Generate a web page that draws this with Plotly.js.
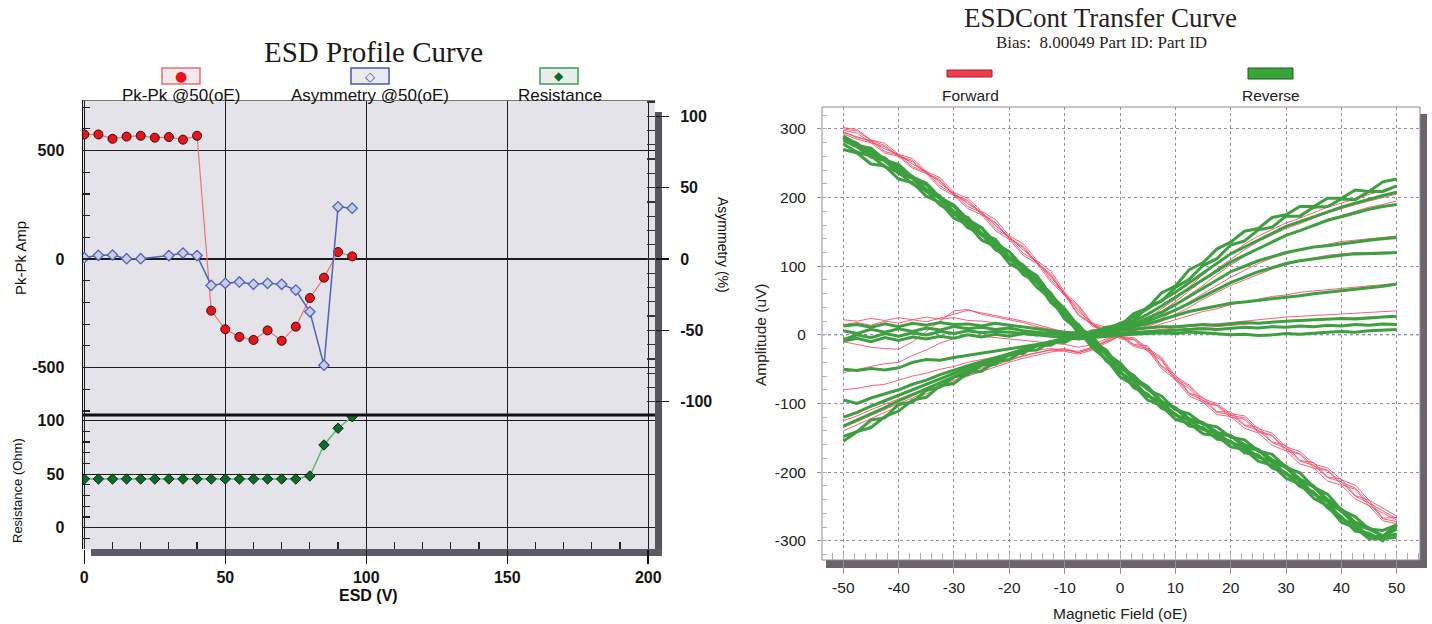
<!DOCTYPE html>
<html>
<head>
<meta charset="utf-8">
<script src="https://cdn.plot.ly/plotly-3.0.1.min.js"></script>
<style>html,body{margin:0;padding:0;background:#fff;}#chart{width:1432px;height:624px;}</style>
</head>
<body>
<div id="chart"></div>
<script>
// ---------- Left chart: ESD Profile Curve ----------
const esdV = [0,5,10,15,20,25,30,35,40,45,50,55,60,65,70,75,80,85,90,95];
const pkpkAmp = [574,574,554,564,568,559,562,550,568,-238,-324,-359,-373,-329,-377,-312,-180,-86,32,12];
const asymV = [0,5,10,15,20,30,35,40,45,50,55,60,65,70,75,80,85,90,95];
const asymmetry = [0.9,2.6,2.8,0.2,0.2,2.4,4.2,2.4,-18.5,-17,-16.1,-17.7,-17,-17.7,-21.8,-37,-74.4,36.6,35.6];
const resistance = [45.5,45.5,45.5,45.5,45.5,45.5,45.5,45.5,45.5,45.5,45.5,45.5,45.5,45.5,45.5,45.5,48.3,77.3,92.9,103.7];
const esdTicks = [0,50,100,150,200];
const esdTickText = ['0','50','100','150','200'];
const pkpkTicks = [-500,0,500];
const pkpkTickText = ['-500','0','500'];
const asymTicks = [-100,-50,0,50,100];
const asymTickText = ['-100','-50','0','50','100'];
const resTicks = [0,50,100];
const resTickText = ['0','50','100'];

// ---------- Right chart: ESDCont Transfer Curve ----------
const fieldX = [-50,-47.5,-45,-42.5,-40,-37.5,-35,-32.5,-30,-27.5,-25,-22.5,-20,-17.5,-15,-12.5,-10,-7.5,-5,-2.5,0,2.5,5,7.5,10,12.5,15,17.5,20,22.5,25,27.5,30,32.5,35,37.5,40,42.5,45,47.5,50];
// Forward (red) sweeps
const fwd1 = [300,297,283,276,261,254,236,226,204,196,177,164,141,129,105,89,59,41,15,9,-4,-6,-21,-35,-63,-75,-96,-102,-117,-121,-140,-146,-166,-173,-191,-197,-215,-223,-245,-256,-268];
const fwd2 = [296,287,283,267,262,245,237,217,205,187,178,155,142,119,107,80,60,30,16,0,-1,-15,-20,-46,-62,-86,-95,-113,-116,-132,-139,-157,-165,-184,-190,-208,-214,-235,-245,-268,-272];
const fwd3 = [302,299,284,279,263,257,238,229,207,199,180,168,144,133,108,93,62,43,17,11,-3,-4,-19,-33,-60,-73,-93,-100,-115,-118,-137,-143,-163,-170,-188,-194,-211,-219,-241,-252,-264];
const fwd4 = [293,285,280,265,260,243,235,214,203,184,175,152,139,116,104,77,58,28,15,-1,-2,-17,-22,-49,-65,-89,-98,-116,-119,-136,-143,-161,-169,-188,-194,-213,-219,-239,-249,-271,-275];
const fwd5 = [298,294,280,274,260,252,235,224,203,194,176,162,140,127,104,87,57,38,12,8,-6,-7,-24,-37,-66,-78,-99,-103,-120,-123,-142,-147,-169,-174,-194,-198,-218,-225,-249,-259,-270];
const fwd6 = [295,289,282,271,263,249,238,221,206,191,179,159,143,124,107,84,61,34,17,3,1,-14,-16,-45,-58,-85,-91,-112,-112,-131,-135,-156,-161,-183,-186,-207,-210,-234,-241,-267,-266];
const fwd7 = [-140,-131,-121,-112,-103,-94,-85,-77,-68,-60,-53,-46,-40,-34,-29,-25,-22,-24,-18,-8,2,12,24,38,52,70,88,104,118,132,144,154,163,170,178,186,192,198,204,211,217];
const fwd8 = [-135,-126,-118,-108,-100,-92,-82,-74,-66,-58,-50,-44,-37,-31,-26,-22,-20,-26,-20,-10,0,10,22,34,48,64,80,96,110,124,136,146,155,162,170,178,184,190,195,200,205];
const fwd9 = [-125,-118,-109,-101,-94,-86,-78,-70,-63,-55,-48,-42,-36,-30,-26,-22,-24,-28,-22,-12,-2,8,18,30,44,58,72,88,102,114,126,136,145,152,160,168,174,180,186,190,195];
const fwd10 = [-80,-78,-74,-72,-66,-60,-56,-50,-46,-40,-36,-32,-28,-24,-22,-20,-22,-26,-18,-10,-2,6,14,24,36,48,60,72,84,94,104,112,118,124,128,132,136,138,140,142,144];
const fwd11 = [-55,-50,-46,-42,-40,-30,-22,-12,-5,0,-2,-4,-6,-8,-10,-12,-14,-18,-14,-6,0,6,12,20,30,40,52,62,72,80,88,96,102,108,112,116,118,120,120,121,120];
const fwd12 = [15,18,14,20,17,22,19,24,30,36,32,28,25,20,15,10,4,-2,-4,-2,2,6,10,16,22,28,34,38,44,48,52,56,58,62,64,66,68,70,71,73,75];
const fwd13 = [22,20,24,21,25,22,26,23,25,21,20,18,15,12,8,4,0,-4,-2,0,2,4,6,8,10,12,14,16,18,20,22,24,26,27,28,30,31,32,33,34,35];
const fwd14 = [-10,-14,-18,-20,-21,-10,5,20,35,37,30,26,22,18,12,8,4,0,-2,0,2,3,5,6,8,10,11,12,14,16,17,18,20,21,22,23,24,25,26,27,28];
// Reverse (green) sweeps
const rev1 = [290,276,272,255,248,230,221,200,189,168,156,134,121,99,86,58,38,12,-4,-29,-45,-66,-78,-98,-106,-122,-128,-142,-147,-160,-167,-182,-191,-210,-220,-240,-254,-273,-281,-293,-283];
const rev2 = [283,274,259,254,235,228,209,199,176,165,145,133,110,98,76,57,28,12,-13,-28,-55,-68,-89,-98,-117,-124,-138,-143,-157,-163,-178,-185,-203,-212,-232,-243,-268,-277,-293,-294,-290];
const rev3 = [278,266,261,245,237,220,210,189,178,156,147,124,113,88,77,47,30,2,-11,-38,-52,-77,-86,-107,-115,-133,-135,-152,-155,-172,-175,-194,-201,-221,-229,-252,-265,-286,-289,-300,-276];
const rev4 = [288,279,263,258,239,231,212,202,179,171,148,139,113,102,78,61,30,15,-10,-22,-48,-59,-80,-89,-109,-115,-130,-134,-149,-153,-169,-174,-193,-201,-222,-232,-255,-265,-283,-285,-277];
const rev5 = [270,265,249,246,227,222,202,193,170,161,138,129,104,93,69,53,23,7,-19,-35,-61,-73,-95,-103,-123,-129,-144,-147,-163,-167,-184,-190,-209,-217,-238,-249,-273,-281,-297,-297,-295];
const rev6 = [286,274,268,254,244,228,219,198,187,164,156,132,121,97,83,54,37,10,-2,-27,-41,-63,-75,-97,-107,-125,-129,-144,-147,-163,-168,-186,-193,-213,-221,-243,-257,-277,-283,-293,-277];
const rev7 = [-155,-141,-135,-119,-111,-95,-91,-74,-71,-55,-53,-39,-36,-23,-22,-10,-11,0,-1,11,13,31,39,61,71,95,105,125,135,151,155,171,175,187,187,199,199,211,209,223,227];
const rev8 = [-148,-141,-124,-121,-101,-98,-81,-76,-61,-58,-44,-43,-28,-27,-15,-15,-4,-5,6,6,17,21,41,49,69,81,101,111,131,137,153,157,173,173,186,187,198,197,209,209,217];
const rev9 = [-133,-124,-116,-106,-96,-87,-78,-70,-60,-52,-44,-37,-29,-22,-16,-10,-5,0,4,10,16,26,38,50,62,76,90,104,118,128,138,148,158,165,172,180,186,192,198,203,208];
const rev10 = [-120,-113,-104,-96,-88,-79,-71,-63,-55,-48,-41,-34,-27,-21,-15,-10,-6,-1,3,8,12,20,30,42,55,68,80,93,106,116,126,136,145,152,160,167,172,178,183,187,190];
const rev11 = [-95,-100,-92,-86,-80,-72,-66,-58,-51,-45,-39,-33,-27,-21,-16,-11,-6,-2,2,6,10,16,24,33,44,56,68,80,92,100,108,114,120,124,128,130,133,136,138,140,142];
const rev12 = [-50,-52,-49,-51,-48,-40,-36,-37,-33,-30,-26,-24,-20,-17,-14,-10,-7,-3,0,4,8,13,20,28,36,46,56,66,76,84,92,98,104,108,111,114,116,118,118,119,120];
const rev13 = [-9,-5,-10,-4,-8,-3,-6,-2,-5,0,-3,1,-2,2,0,3,1,4,3,5,8,12,16,22,28,34,38,42,46,48,50,52,54,57,60,62,64,66,68,71,74];
const rev14 = [13,15,11,16,12,17,14,18,15,16,13,17,14,12,9,6,4,2,3,5,6,8,10,12,12,14,15,14,16,18,17,19,20,21,22,22,24,23,25,26,27];
const rev15 = [6,2,8,4,9,5,10,7,12,9,11,8,10,6,4,2,0,-2,0,1,2,4,5,6,7,8,9,8,10,11,10,12,11,13,12,14,13,15,14,16,15];
const rev16 = [-7,0,-4,2,-2,3,0,5,2,6,3,5,4,2,0,-3,-5,-6,-4,-2,0,1,2,3,2,4,3,2,0,1,-1,0,2,1,3,4,5,4,6,7,8];
const fieldTicks = [-50,-40,-30,-20,-10,0,10,20,30,40,50];
const fieldTickText = ['-50','-40','-30','-20','-10','0','10','20','30','40','50'];
const ampTicks = [-300,-200,-100,0,100,200,300];
const ampTickText = ['-300','-200','-100','0','100','200','300'];

const forwardSet = [fwd1,fwd2,fwd3,fwd4,fwd5,fwd6,fwd7,fwd8,fwd9,fwd10,fwd11,fwd12,fwd13,fwd14];
const reverseSet = [rev1,rev2,rev3,rev4,rev5,rev6,rev7,rev8,rev9,rev10,rev11,rev12,rev13,rev14,rev15,rev16];

// ---------- layout helpers ----------
const W = 1432, H = 624;
const px = v => v / W;
const py = v => 1 - v / H;
const SANS = 'Liberation Sans, Arial, sans-serif';
const SERIF = 'Liberation Serif, Times New Roman, serif';

const traces = [];
traces.push({x: esdV, y: pkpkAmp, xaxis: 'x', yaxis: 'y', type: 'scatter', mode: 'lines+markers',
  line: {color: '#f07474', width: 1.2},
  marker: {symbol: 'circle', size: 9, color: '#e8141c', line: {color: '#3a0808', width: 1}}});
traces.push({x: asymV, y: asymmetry, xaxis: 'x', yaxis: 'y2', type: 'scatter', mode: 'lines+markers',
  line: {color: '#5064b8', width: 1.5},
  marker: {symbol: 'diamond', size: 8, color: '#c9cee6', line: {color: '#5064b8', width: 1.3}}});
traces.push({x: esdV, y: resistance, xaxis: 'x', yaxis: 'y3', type: 'scatter', mode: 'lines+markers',
  line: {color: '#5cba6c', width: 1.5},
  marker: {symbol: 'diamond', size: 8, color: '#0e6a2c', line: {color: '#062a10', width: 1}}});
forwardSet.forEach(arr => traces.push({x: fieldX, y: arr, xaxis: 'x2', yaxis: 'y4', type: 'scatter', mode: 'lines',
  line: {color: 'rgba(242,70,100,0.85)', width: 1}}));
reverseSet.forEach(arr => traces.push({x: fieldX, y: arr, xaxis: 'x2', yaxis: 'y4', type: 'scatter', mode: 'lines',
  line: {color: '#3d9f3f', width: 3}}));

const tickFontL = {family: SANS, size: 16, color: '#151515', weight: 'bold'};
const gridL = '#1c1c1c';
const gridR = '#9c8a9a';

const layout = {
  width: W, height: H, margin: {l: 0, r: 0, t: 0, b: 0},
  paper_bgcolor: '#ffffff', plot_bgcolor: 'rgba(0,0,0,0)', showlegend: false,
  xaxis: {domain: [px(83), px(655)], range: [-0.46, 202.4], anchor: 'y3', tickvals: esdTicks, ticktext: esdTickText,
    ticks: 'outside', ticklen: 14, tickwidth: 1.5, tickcolor: '#111', showgrid: true, gridcolor: gridL, gridwidth: 1.3,
    zeroline: false, showline: false, tickfont: tickFontL,
    minor: {dtick: 10, ticks: 'inside', ticklen: 7, tickcolor: '#222', tickwidth: 1.2, showgrid: false}},
  yaxis: {domain: [py(415), py(100)], range: [-718.9, 732.7], anchor: 'x', tickvals: pkpkTicks, ticktext: pkpkTickText,
    ticks: '', ticklabelstandoff: 14, showgrid: true, gridcolor: gridL, gridwidth: 1.2, zeroline: false,
    showline: true, linecolor: '#111', linewidth: 1.5, tickfont: tickFontL,
    minor: {dtick: 100, ticks: 'inside', ticklen: 7, tickcolor: '#222', tickwidth: 1.2, showgrid: false}},
  yaxis2: {overlaying: 'y', side: 'right', anchor: 'x', range: [-109.3, 111.4], tickvals: asymTicks, ticktext: asymTickText,
    ticks: 'outside', ticklen: 13, tickwidth: 1.5, tickcolor: '#111', ticklabelstandoff: 8, showgrid: false, zeroline: false,
    showline: false, tickfont: tickFontL,
    minor: {dtick: 10, ticks: 'inside', ticklen: 8, tickcolor: '#333', tickwidth: 1.2}},
  yaxis3: {domain: [py(549), py(415)], range: [-19.9, 105.3], anchor: 'x', tickvals: resTicks, ticktext: resTickText,
    ticks: '', ticklabelstandoff: 14, showgrid: true, gridcolor: gridL, gridwidth: 1.2, zeroline: false,
    showline: true, linecolor: '#111', linewidth: 1.5, tickfont: tickFontL,
    minor: {dtick: 10, ticks: 'inside', ticklen: 7, tickcolor: '#222', tickwidth: 1.2, showgrid: false}},
  xaxis2: {domain: [px(822), px(1420)], range: [-53.85, 54.21], anchor: 'y4', tickvals: fieldTicks, ticktext: fieldTickText,
    ticks: 'outside', ticklen: 13, tickcolor: '#9c8a9a', showgrid: true, gridcolor: gridR, griddash: 'dot', gridwidth: 1,
    zeroline: false, showline: false, tickfont: {family: SANS, size: 15.5, color: '#222'},
    minor: {dtick: 2, ticks: 'inside', ticklen: 7, tickcolor: '#b8aab8', showgrid: false}},
  yaxis4: {domain: [py(560), py(107)], range: [-328, 332], anchor: 'x2', tickvals: ampTicks, ticktext: ampTickText,
    ticks: 'outside', ticklen: 4, tickcolor: '#9c8a9a', ticklabelstandoff: 8, showgrid: true, gridcolor: gridR, griddash: 'dot',
    gridwidth: 1, zeroline: false, showline: false, tickfont: {family: SANS, size: 15.5, color: '#222'},
    minor: {dtick: 20, ticks: 'inside', ticklen: 5, tickcolor: '#b8aab8', showgrid: false}},
  shapes: [
    // left plot background + frame + shadows
    {type: 'rect', xref: 'paper', yref: 'paper', x0: px(83), x1: px(655), y0: py(549), y1: py(100), fillcolor: '#e3e3e9', line: {width: 0}, layer: 'below'},
    {type: 'rect', xref: 'paper', yref: 'paper', x0: px(655), x1: px(662), y0: py(556), y1: py(112), fillcolor: '#55555c', line: {width: 0}, layer: 'below'},
    {type: 'rect', xref: 'paper', yref: 'paper', x0: px(91), x1: px(662), y0: py(556), y1: py(549), fillcolor: '#5c5c64', line: {width: 0}, layer: 'below'},
    {type: 'line', xref: 'paper', yref: 'paper', x0: px(83), x1: px(655), y0: py(100.5), y1: py(100.5), line: {color: '#777', width: 1}},
    {type: 'line', xref: 'paper', yref: 'paper', x0: px(83), x1: px(655), y0: py(415), y1: py(415), line: {color: '#111', width: 3}},
    // right plot frame + shadows
    {type: 'rect', xref: 'paper', yref: 'paper', x0: px(1420), x1: px(1427), y0: py(568), y1: py(114), fillcolor: '#6d626d', line: {width: 0}, layer: 'below'},
    {type: 'rect', xref: 'paper', yref: 'paper', x0: px(826), x1: px(1427), y0: py(568), y1: py(560), fillcolor: '#6d626d', line: {width: 0}, layer: 'below'},
    {type: 'rect', xref: 'paper', yref: 'paper', x0: px(822), x1: px(1420), y0: py(560), y1: py(107), line: {color: '#8a8a8a', width: 1}, layer: 'below'},
    {type: 'line', xref: 'x2 domain', yref: 'y4', x0: 0, x1: 1, y0: 0, y1: 0, line: {color: '#4aa3e6', width: 1, dash: 'dot'}, layer: 'below'},
    // legend keys
    {type: 'rect', xref: 'paper', yref: 'paper', x0: px(162), x1: px(200), y0: py(84), y1: py(68), fillcolor: '#efeaec', line: {color: '#ef6a78', width: 1.5}},
    {type: 'rect', xref: 'paper', yref: 'paper', x0: px(351), x1: px(389), y0: py(84), y1: py(68), fillcolor: '#eaeaf0', line: {color: '#4058b8', width: 1.5}},
    {type: 'rect', xref: 'paper', yref: 'paper', x0: px(540), x1: px(578), y0: py(84), y1: py(68), fillcolor: '#eaeeea', line: {color: '#3aa050', width: 1.5}},
    {type: 'rect', xref: 'paper', yref: 'paper', x0: px(947), x1: px(992), y0: py(77), y1: py(70), fillcolor: '#f03c4c', line: {color: '#a02030', width: 1}},
    {type: 'rect', xref: 'paper', yref: 'paper', x0: px(1248), x1: px(1293), y0: py(79), y1: py(68), fillcolor: '#3aa43c', line: {color: '#1c5a1c', width: 1}}
  ],
  annotations: [
    {text: 'ESD Profile Curve', x: px(373), y: py(52), xref: 'paper', yref: 'paper', showarrow: false, xanchor: 'center', yanchor: 'middle', font: {family: SERIF, size: 29, color: '#1a1a1a'}},
    {text: 'ESDCont Transfer Curve', x: px(1100), y: py(18), xref: 'paper', yref: 'paper', showarrow: false, xanchor: 'center', yanchor: 'middle', font: {family: SERIF, size: 27, color: '#2a1e22'}},
    {text: 'Bias:\u00a0 8.00049 Part ID: Part ID', x: px(1101), y: py(43), xref: 'paper', yref: 'paper', showarrow: false, xanchor: 'center', yanchor: 'middle', font: {family: SERIF, size: 17, color: '#2a1e22'}},
    {text: 'Pk-Pk @50(oE)', x: px(181), y: py(95), xref: 'paper', yref: 'paper', showarrow: false, xanchor: 'center', yanchor: 'middle', font: {family: SANS, size: 17, color: '#111'}},
    {text: 'Asymmetry @50(oE)', x: px(370), y: py(95), xref: 'paper', yref: 'paper', showarrow: false, xanchor: 'center', yanchor: 'middle', font: {family: SANS, size: 17, color: '#111'}},
    {text: 'Resistance', x: px(560), y: py(95), xref: 'paper', yref: 'paper', showarrow: false, xanchor: 'center', yanchor: 'middle', font: {family: SANS, size: 17, color: '#111'}},
    {text: '●', x: px(181), y: py(76), xref: 'paper', yref: 'paper', showarrow: false, xanchor: 'center', yanchor: 'middle', font: {family: 'DejaVu Sans', size: 14, color: '#ee1020'}},
    {text: '◇', x: px(370), y: py(76), xref: 'paper', yref: 'paper', showarrow: false, xanchor: 'center', yanchor: 'middle', font: {family: 'DejaVu Sans', size: 13, color: '#3048b0'}},
    {text: '◆', x: px(559), y: py(76), xref: 'paper', yref: 'paper', showarrow: false, xanchor: 'center', yanchor: 'middle', font: {family: 'DejaVu Sans', size: 12, color: '#0e6a2c'}},
    {text: 'Forward', x: px(970), y: py(95), xref: 'paper', yref: 'paper', showarrow: false, xanchor: 'center', yanchor: 'middle', font: {family: SANS, size: 15.5, color: '#222'}},
    {text: 'Reverse', x: px(1271), y: py(95), xref: 'paper', yref: 'paper', showarrow: false, xanchor: 'center', yanchor: 'middle', font: {family: SANS, size: 15.5, color: '#222'}},
    {text: 'Pk-Pk Amp', x: px(20), y: py(258), xref: 'paper', yref: 'paper', showarrow: false, xanchor: 'center', yanchor: 'middle', textangle: -90, font: {family: SANS, size: 15, color: '#111'}},
    {text: 'Resistance (Ohm)', x: px(17), y: py(491), xref: 'paper', yref: 'paper', showarrow: false, xanchor: 'center', yanchor: 'middle', textangle: -90, font: {family: SANS, size: 13, color: '#111'}},
    {text: 'Asymmetry (%)', x: px(723), y: py(245), xref: 'paper', yref: 'paper', showarrow: false, xanchor: 'center', yanchor: 'middle', textangle: 90, font: {family: SANS, size: 14, color: '#111'}},
    {text: 'ESD (V)', x: px(368), y: py(595), xref: 'paper', yref: 'paper', showarrow: false, xanchor: 'center', yanchor: 'middle', font: {family: SANS, size: 16, color: '#111', weight: 'bold'}},
    {text: 'Amplitude (uV)', x: px(760), y: py(335), xref: 'paper', yref: 'paper', showarrow: false, xanchor: 'center', yanchor: 'middle', textangle: -90, font: {family: SANS, size: 15.5, color: '#222'}},
    {text: 'Magnetic Field (oE)', x: px(1120), y: py(613), xref: 'paper', yref: 'paper', showarrow: false, xanchor: 'center', yanchor: 'middle', font: {family: SANS, size: 15.5, color: '#222'}}
  ]
};

Plotly.newPlot('chart', traces, layout, {displayModeBar: false, staticPlot: true});
</script>
</body>
</html>
